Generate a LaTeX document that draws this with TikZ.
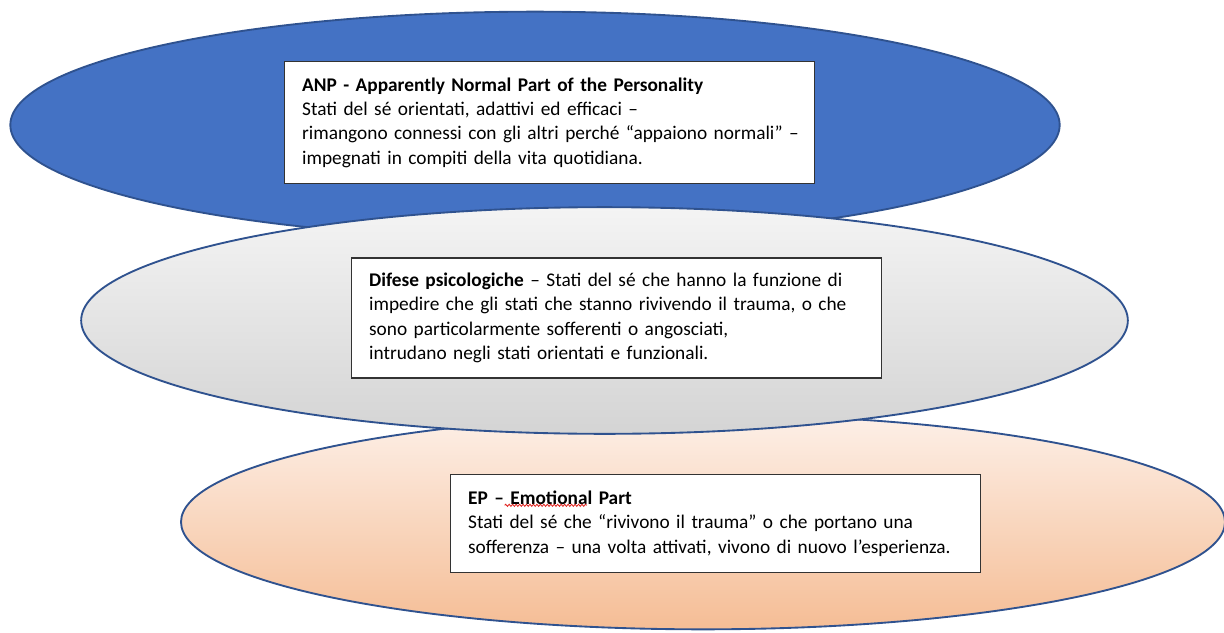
\documentclass[tikz,border=0pt]{standalone}
\usepackage{fontspec}
\setmainfont{Carlito}
\usetikzlibrary{shapes.geometric,decorations.pathmorphing}
\definecolor{anpblue}{HTML}{4472C4}
\definecolor{rimblue}{HTML}{2F528F}
\definecolor{defgreytop}{HTML}{F4F4F4}
\definecolor{defgreybot}{HTML}{D4D4D4}
\definecolor{eptop}{HTML}{FDF0E8}
\definecolor{epbot}{HTML}{F5BD95}
\definecolor{boxline}{HTML}{333333}
\definecolor{spellred}{HTML}{E0201C}
\tikzset{
  layer/.style={ellipse, draw=rimblue, line width=1.4pt, inner sep=0pt},
  anplayer/.style={layer, fill=anpblue, minimum width=787pt, minimum height=170pt},
  deflayer/.style={layer, top color=defgreytop, bottom color=defgreybot,
                   minimum width=785pt, minimum height=170pt},
  eplayer/.style ={layer, top color=eptop, bottom color=epbot,
                   minimum width=783pt, minimum height=161pt},
  textbox/.style={draw=boxline, fill=white, line width=0.8pt, align=left,
                  text width=371pt, inner xsep=13.5pt, inner ysep=0pt,
                  font=\fontsize{14.5}{18.2}\selectfont},
  % red spell-check squiggle
  spellwave/.style={draw=spellred, line width=0.6pt,
                    decorate, decoration={snake, amplitude=0.8pt, segment length=2.6pt}},
}

\begin{document}
\begin{tikzpicture}[x=0.75pt, y=-0.75pt]
\useasboundingbox (0,0) rectangle (1224,632);

% ---------------------------------------------------------------- layers, back to front
\node[anplayer] (anpbg) at (535,125) {};
\node[eplayer]  (epbg)  at (703,522) {};
\node[deflayer] (defbg) at (604.5,320.5) {};

% ---------------------------------------------------------------- text boxes
\node[textbox, minimum height=91pt] (anp) at (549.5,122.5)
  {\textbf{ANP - Apparently Normal Part of the Personality}\\
   Stati del sé orientati, adattivi ed efficaci –\\
   \mbox{rimangono connessi con gli altri perché “appaiono normali” –}\\
   impegnati in compiti della vita quotidiana.};

\node[textbox, minimum height=90pt] (def) at (616.5,318)
  {\textbf{Difese psicologiche} – Stati del sé che hanno la funzione di\\
   impedire che gli stati che stanno rivivendo il trauma, o che\\
   sono particolarmente sofferenti o angosciati,\\
   intrudano negli stati orientati e funzionali.};

\node[textbox, minimum height=73pt] (ep) at (715.5,523.5)
  {\textbf{EP – Emotional Part}\\
   Stati del sé che “rivivono il trauma” o che portano una\\
   \mbox{sofferenza – una volta attivati, vivono di nuovo l’esperienza.}};

\draw[spellwave] ([shift={(55,31)}]ep.north west) -- ++(82,0);

\end{tikzpicture}
\end{document}
